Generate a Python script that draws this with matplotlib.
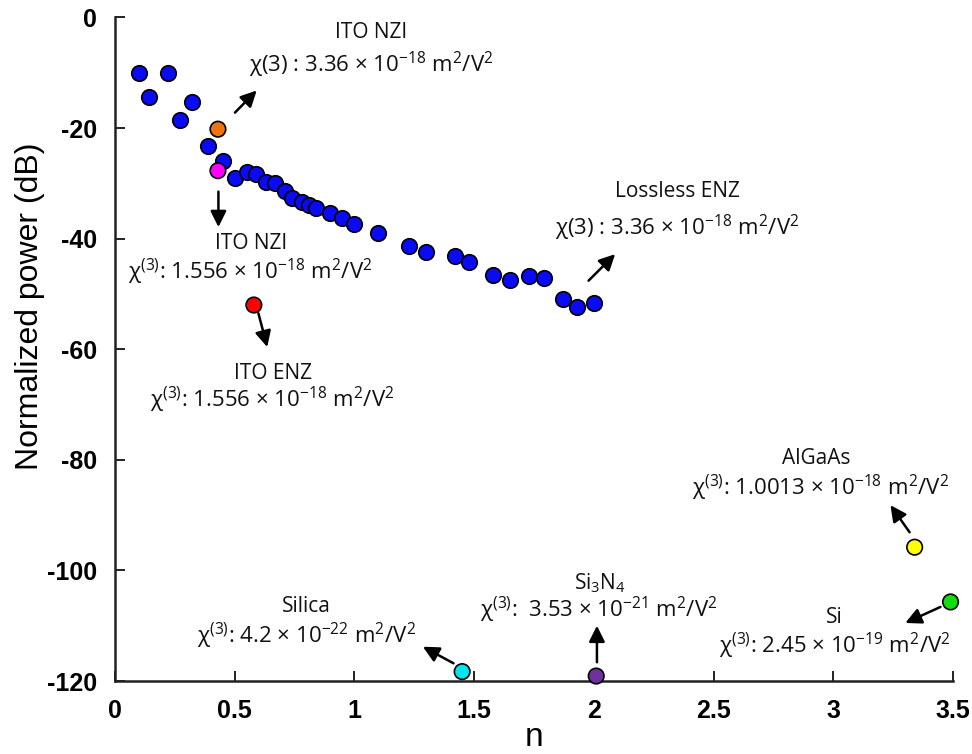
# Librerías
import matplotlib.pyplot as plt

plt.rcParams['axes.unicode_minus'] = False
plt.rcParams['mathtext.fontset'] = 'custom'
plt.rcParams['mathtext.rm'] = 'Open Sans'
plt.rcParams['mathtext.it'] = 'Open Sans:italic'
plt.rcParams['mathtext.bf'] = 'Open Sans:bold'
plt.rcParams['mathtext.default'] = 'rm'

# Datos
n_azul = [0.10, 0.14, 0.22, 0.27, 0.32, 0.39, 0.45, 0.50, 0.55, 0.59, 0.63,
          0.67, 0.71, 0.74, 0.78, 0.81, 0.84, 0.90, 0.95, 1.00, 1.10, 1.23,
          1.30, 1.42, 1.48, 1.58, 1.65, 1.73, 1.79, 1.87, 1.93, 2.00]
db_azul = [-10.0, -14.3, -10.0, -18.6, -15.3, -23.3, -25.9, -29.1, -27.9,
           -28.3, -29.7, -29.9, -31.3, -32.6, -33.3, -33.9, -34.5, -35.3,
           -36.3, -37.4, -38.9, -41.3, -42.4, -43.2, -44.2, -46.5, -47.5,
           -46.7, -47.1, -50.9, -52.3, -51.7]

materiales = ['ITO NZI', 'ITO NZI', 'ITO ENZ', 'Silica', 'Si3N4', 'AlGaAs', 'Si']
n_mat = [0.43, 0.43, 0.58, 1.45, 2.01, 3.34, 3.49]
db_mat = [-20.2, -27.7, -52.0, -118.3, -119.1, -95.8, -105.7]
colores_mat = ['#ee7311', '#ff00ff', '#ff0000', '#00e5f0', '#7030a0', '#ffff00', '#11dd11']

ticks_x = [0, 0.5, 1, 1.5, 2, 2.5, 3, 3.5]
etiquetas_x = ['0', '0.5', '1', '1.5', '2', '2.5', '3', '3.5']
ticks_y = [0, -20, -40, -60, -80, -100, -120]

# Títulos de cada anotación: (texto, n, dB)
titulos = [
    ('ITO NZI', 1.07, -2.8),
    ('ITO NZI', 0.57, -40.9),
    ('ITO ENZ', 0.658, -64.3),
    ('Lossless ENZ', 2.35, -31.4),
    ('Silica', 0.80, -106.6),
    ('Si$_3$N$_4$', 2.027, -102.4),
    ('AlGaAs', 2.93, -79.7),
    ('Si', 3.005, -108.6),
]

# Líneas con chi(3)
lineas_chi = [
    ('χ(3) : 3.36 × 10$^{-18}$ m$^2$/V$^2$', 1.07, -8.6),
    ('χ$^{(3)}$: 1.556 × 10$^{-18}$ m$^2$/V$^2$', 0.565, -46.1),
    ('χ$^{(3)}$: 1.556 × 10$^{-18}$ m$^2$/V$^2$', 0.655, -69.2),
    ('χ(3) : 3.36 × 10$^{-18}$ m$^2$/V$^2$', 2.35, -38.1),
    ('χ$^{(3)}$: 4.2 × 10$^{-22}$ m$^2$/V$^2$', 0.80, -111.9),
    ('χ$^{(3)}$:  3.53 × 10$^{-21}$ m$^2$/V$^2$', 2.02, -107.2),
    ('χ$^{(3)}$: 1.0013 × 10$^{-18}$ m$^2$/V$^2$', 2.946, -85.1),
    ('χ$^{(3)}$: 2.45 × 10$^{-19}$ m$^2$/V$^2$', 3.008, -113.6),
]

# Flechas: (inicio, punta)
flechas = [
    ((0.501, -17.2), (0.592, -13.2)),
    ((0.432, -31.5), (0.432, -37.9)),
    ((0.599, -53.5), (0.636, -59.6)),
    ((1.978, -47.6), (2.089, -42.8)),
    ((1.414, -116.8), (1.286, -113.8)),
    ((2.013, -116.6), (2.013, -110.0)),
    ((3.319, -93.1), (3.239, -88.2)),
    ((3.448, -106.6), (3.301, -109.5)),
]

fig = plt.figure(figsize=(9.72, 7.54), dpi=100)
ax = fig.add_axes([0.1183, 0.0968, 0.8621, 0.880])

# Puntos
ax.scatter(n_azul, db_azul, s=125, c='#0a0af5', edgecolors='black',
           linewidths=1.2, zorder=3, clip_on=False)
ax.scatter(n_mat, db_mat, s=125, c=colores_mat, edgecolors='black',
           linewidths=1.2, zorder=4, clip_on=False)

for texto, x, y in titulos:
    ax.text(x, y, texto, ha='center', va='center', fontsize=15,
            family='Open Sans', color='#111111')
for texto, x, y in lineas_chi:
    ax.text(x, y, texto, ha='center', va='center', fontsize=16,
            family='Open Sans', color='#111111')

for inicio, punta in flechas:
    ax.annotate('', xy=punta, xytext=inicio,
                arrowprops=dict(arrowstyle='-|>', color='black', lw=1.8,
                                mutation_scale=24, shrinkA=0, shrinkB=0))

# Ejes
ax.set_xlim(0, 3.5)
ax.set_ylim(-120, 0)
ax.set_xticks(ticks_x)
ax.set_xticklabels(etiquetas_x)
ax.set_yticks(ticks_y)
for lado in ['top', 'right']:
    ax.spines[lado].set_visible(False)
for lado in ['left', 'bottom']:
    ax.spines[lado].set_linewidth(1.8)
    ax.spines[lado].set_color('#222222')
ax.tick_params(direction='in', length=7, width=1.4, color='#222222', pad=13)
for etiqueta in ax.get_xticklabels() + ax.get_yticklabels():
    etiqueta.set_fontfamily('Liberation Sans')
    etiqueta.set_fontweight('bold')
    etiqueta.set_fontsize(18)

ax.set_xlabel('n', fontsize=24, family='Liberation Sans')
ax.xaxis.set_label_coords(0.5, -0.062)
ax.set_ylabel('Normalized power (dB)', fontsize=23, family='Liberation Sans')
ax.yaxis.set_label_coords(-0.084, 0.565)

plt.savefig('out.png', dpi=100)
